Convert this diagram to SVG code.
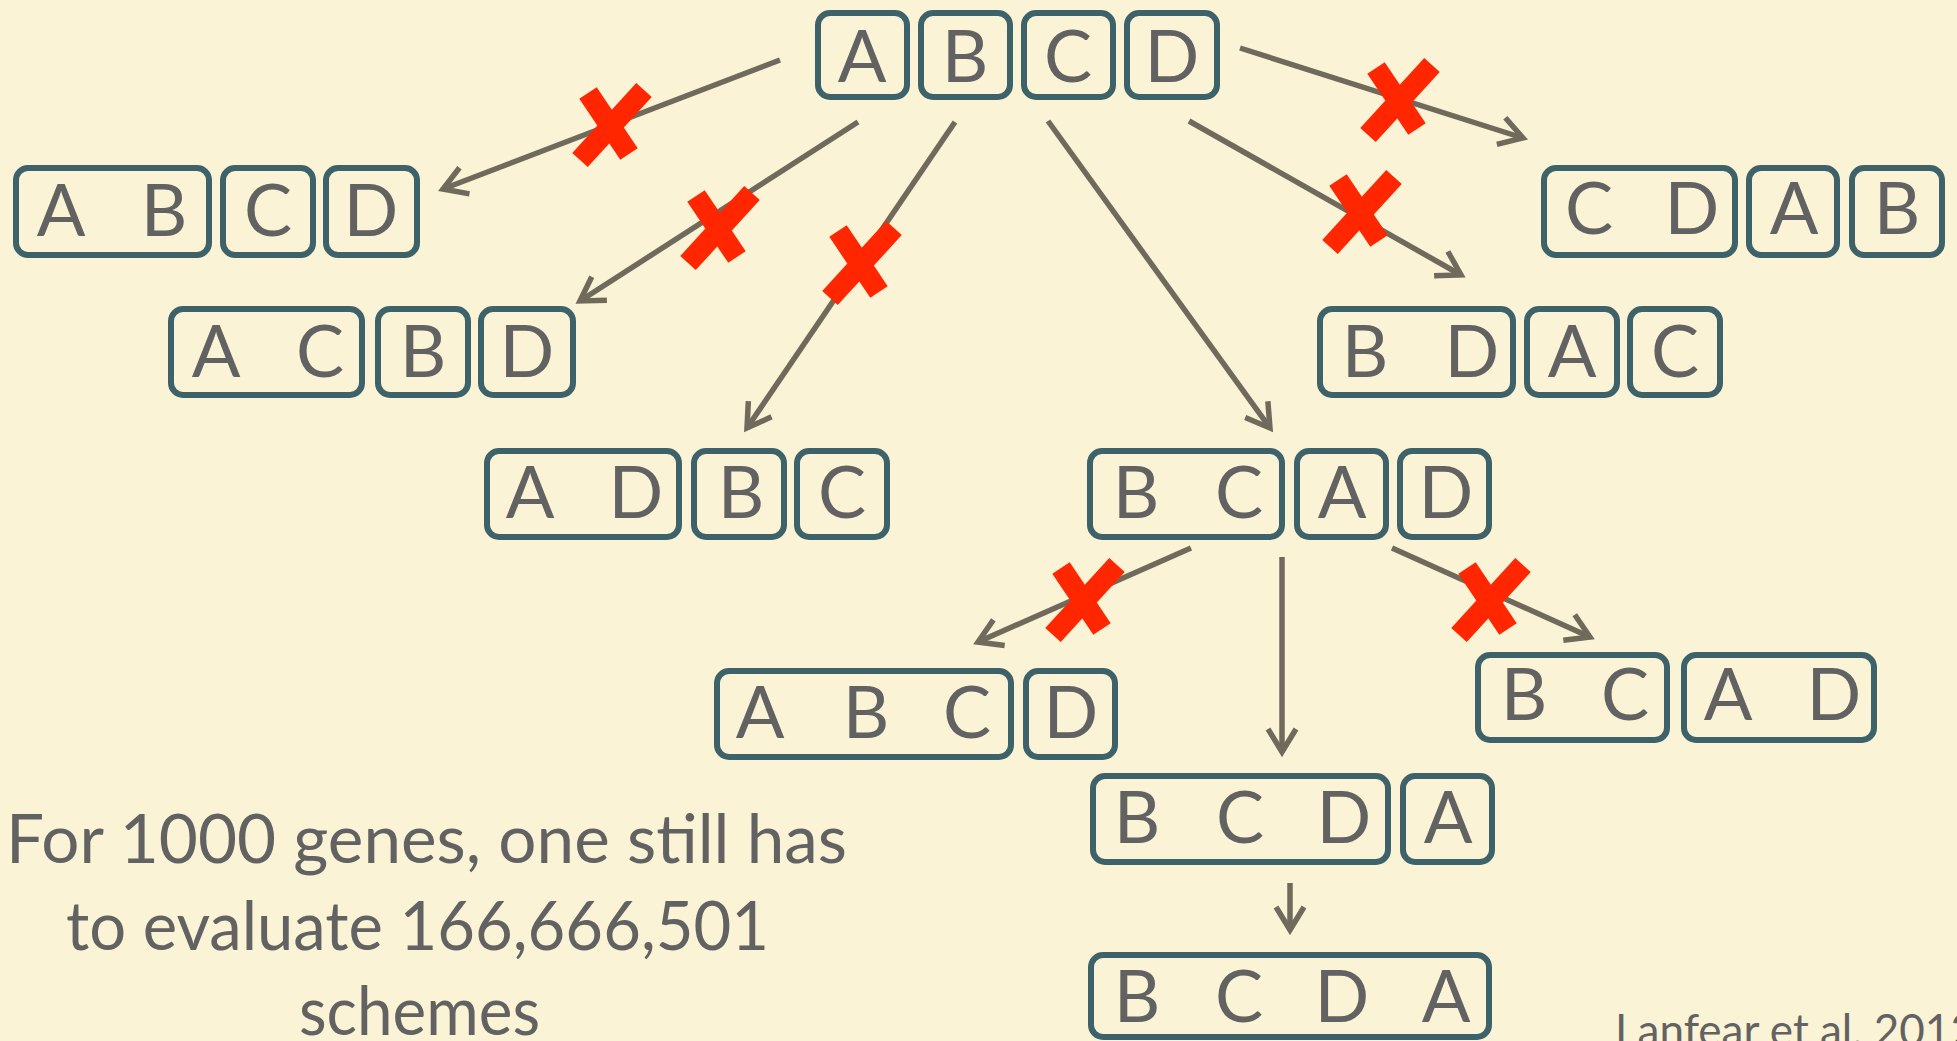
<svg xmlns="http://www.w3.org/2000/svg" width="1957" height="1041" viewBox="0 0 1957 1041">
<style>
.box{fill:none;stroke:#3d6269;stroke-width:6}
.lt{font-family:Lato,"Open Sans",sans-serif;font-size:72px;fill:#626262;text-anchor:middle}
.conn{stroke:#706a5c;stroke-width:5.5;fill:none;marker-end:url(#ah)}
.xs line{stroke:#ff2600;stroke-width:21}
.cap{font-family:Lato,"Open Sans",sans-serif;font-size:68px;fill:#626262}
.ref{font-family:Lato,"Open Sans",sans-serif;font-size:44px;fill:#626262}
</style>
<defs>
<marker id="ah" markerUnits="userSpaceOnUse" markerWidth="40" markerHeight="40" viewBox="-30 -20 34 40" refX="0" refY="0" orient="auto" overflow="visible">
<path d="M -23 -14 L 0 0 L -23 14" fill="none" stroke="#706a5c" stroke-width="5.5"/>
</marker>
<g id="x" class="xs">
<line x1="-22" y1="-32" x2="19" y2="29"/>
<line x1="34" y1="-35" x2="-30" y2="35"/>
</g>
</defs>
<rect width="1957" height="1041" fill="#fbf3d5"/>

<g id="connectors">
<line class="conn" x1="780" y1="60" x2="443" y2="189"/>
<line class="conn" x1="858" y1="122" x2="580" y2="301"/>
<line class="conn" x1="955" y1="122" x2="747" y2="428"/>
<line class="conn" x1="1048" y1="121" x2="1270" y2="428"/>
<line class="conn" x1="1189" y1="121" x2="1461" y2="275"/>
<line class="conn" x1="1240" y1="48" x2="1523" y2="138"/>
<line class="conn" x1="1191" y1="548" x2="978" y2="642"/>
<line class="conn" x1="1282" y1="557" x2="1282" y2="752"/>
<line class="conn" x1="1392" y1="548" x2="1590" y2="637"/>
<line class="conn" x1="1290" y1="883" x2="1290" y2="930"/>
</g>

<g id="crosses">
<use href="#x" transform="translate(610,125)"/>
<use href="#x" transform="translate(718,228)"/>
<use href="#x" transform="translate(860,263)"/>
<use href="#x" transform="translate(1360,212)"/>
<use href="#x" transform="translate(1398,100)"/>
<use href="#x" transform="translate(1083,600)"/>
<use href="#x" transform="translate(1489,600)"/>
</g>

<g id="n-ABCD">
<rect class="box" x="818" y="13" width="89" height="84" rx="12"/>
<rect class="box" x="921" y="13" width="89" height="84" rx="12"/>
<rect class="box" x="1024" y="13" width="89" height="84" rx="12"/>
<rect class="box" x="1127" y="13" width="90" height="84" rx="12"/>
<text class="lt" x="862" y="82">A</text><text class="lt" x="965" y="82">B</text><text class="lt" x="1068" y="82">C</text><text class="lt" x="1172" y="82">D</text>
</g>

<g id="n-AB-C-D">
<rect class="box" x="16" y="168" width="193" height="87" rx="12"/>
<rect class="box" x="223" y="168" width="90" height="87" rx="12"/>
<rect class="box" x="326" y="168" width="91" height="87" rx="12"/>
<text class="lt" x="61" y="236">A</text><text class="lt" x="164" y="236">B</text><text class="lt" x="268" y="236">C</text><text class="lt" x="371" y="236">D</text>
</g>

<g id="n-AC-B-D">
<rect class="box" x="171" y="309" width="191" height="86" rx="12"/>
<rect class="box" x="378" y="309" width="90" height="86" rx="12"/>
<rect class="box" x="481" y="309" width="92" height="86" rx="12"/>
<text class="lt" x="216" y="377">A</text><text class="lt" x="320" y="377">C</text><text class="lt" x="423" y="377">B</text><text class="lt" x="527" y="377">D</text>
</g>

<g id="n-AD-B-C">
<rect class="box" x="487" y="451" width="192" height="86" rx="12"/>
<rect class="box" x="694" y="451" width="90" height="86" rx="12"/>
<rect class="box" x="797" y="451" width="90" height="86" rx="12"/>
<text class="lt" x="530" y="518">A</text><text class="lt" x="636" y="518">D</text><text class="lt" x="741" y="518">B</text><text class="lt" x="842" y="518">C</text>
</g>

<g id="n-BC-A-D">
<rect class="box" x="1090" y="451" width="192" height="86" rx="12"/>
<rect class="box" x="1297" y="451" width="89" height="86" rx="12"/>
<rect class="box" x="1400" y="451" width="89" height="86" rx="12"/>
<text class="lt" x="1136" y="518">B</text><text class="lt" x="1239" y="518">C</text><text class="lt" x="1342" y="518">A</text><text class="lt" x="1446" y="518">D</text>
</g>

<g id="n-CD-A-B">
<rect class="box" x="1544" y="168" width="191" height="87" rx="12"/>
<rect class="box" x="1749" y="168" width="88" height="87" rx="12"/>
<rect class="box" x="1852" y="168" width="90" height="87" rx="12"/>
<text class="lt" x="1589" y="234">C</text><text class="lt" x="1692" y="234">D</text><text class="lt" x="1794" y="234">A</text><text class="lt" x="1897" y="234">B</text>
</g>

<g id="n-BD-A-C">
<rect class="box" x="1320" y="309" width="193" height="86" rx="12"/>
<rect class="box" x="1527" y="309" width="90" height="86" rx="12"/>
<rect class="box" x="1630" y="309" width="90" height="86" rx="12"/>
<text class="lt" x="1365" y="377">B</text><text class="lt" x="1472" y="377">D</text><text class="lt" x="1572" y="377">A</text><text class="lt" x="1675" y="377">C</text>
</g>

<g id="n-ABC-D">
<rect class="box" x="717" y="671" width="294" height="86" rx="12"/>
<rect class="box" x="1026" y="671" width="89" height="86" rx="12"/>
<text class="lt" x="760" y="738">A</text><text class="lt" x="866" y="738">B</text><text class="lt" x="967" y="738">C</text><text class="lt" x="1071" y="738">D</text>
</g>

<g id="n-BC-AD">
<rect class="box" x="1478" y="655" width="189" height="85" rx="12"/>
<rect class="box" x="1684" y="655" width="190" height="85" rx="12"/>
<text class="lt" x="1524" y="720">B</text><text class="lt" x="1625" y="720">C</text><text class="lt" x="1728" y="720">A</text><text class="lt" x="1834" y="720">D</text>
</g>

<g id="n-BCD-A">
<rect class="box" x="1093" y="776" width="295" height="86" rx="12"/>
<rect class="box" x="1403" y="776" width="89" height="86" rx="12"/>
<text class="lt" x="1137" y="843">B</text><text class="lt" x="1240" y="843">C</text><text class="lt" x="1344" y="843">D</text><text class="lt" x="1448" y="843">A</text>
</g>

<g id="n-BCDA">
<rect class="box" x="1091" y="955" width="398" height="82" rx="12"/>
<text class="lt" x="1137" y="1022">B</text><text class="lt" x="1239" y="1022">C</text><text class="lt" x="1342" y="1022">D</text><text class="lt" x="1446" y="1022">A</text>
</g>

<g id="caption">
<text class="cap" x="6" y="863" textLength="841" lengthAdjust="spacingAndGlyphs">For 1000 genes, one still has</text>
<text class="cap" x="66" y="950" textLength="703" lengthAdjust="spacingAndGlyphs">to evaluate 166,666,501</text>
<text class="cap" x="299" y="1035" textLength="241" lengthAdjust="spacingAndGlyphs">schemes</text>
</g>
<text class="ref" x="1615" y="1046">Lanfear et al. 2012</text>
</svg>
